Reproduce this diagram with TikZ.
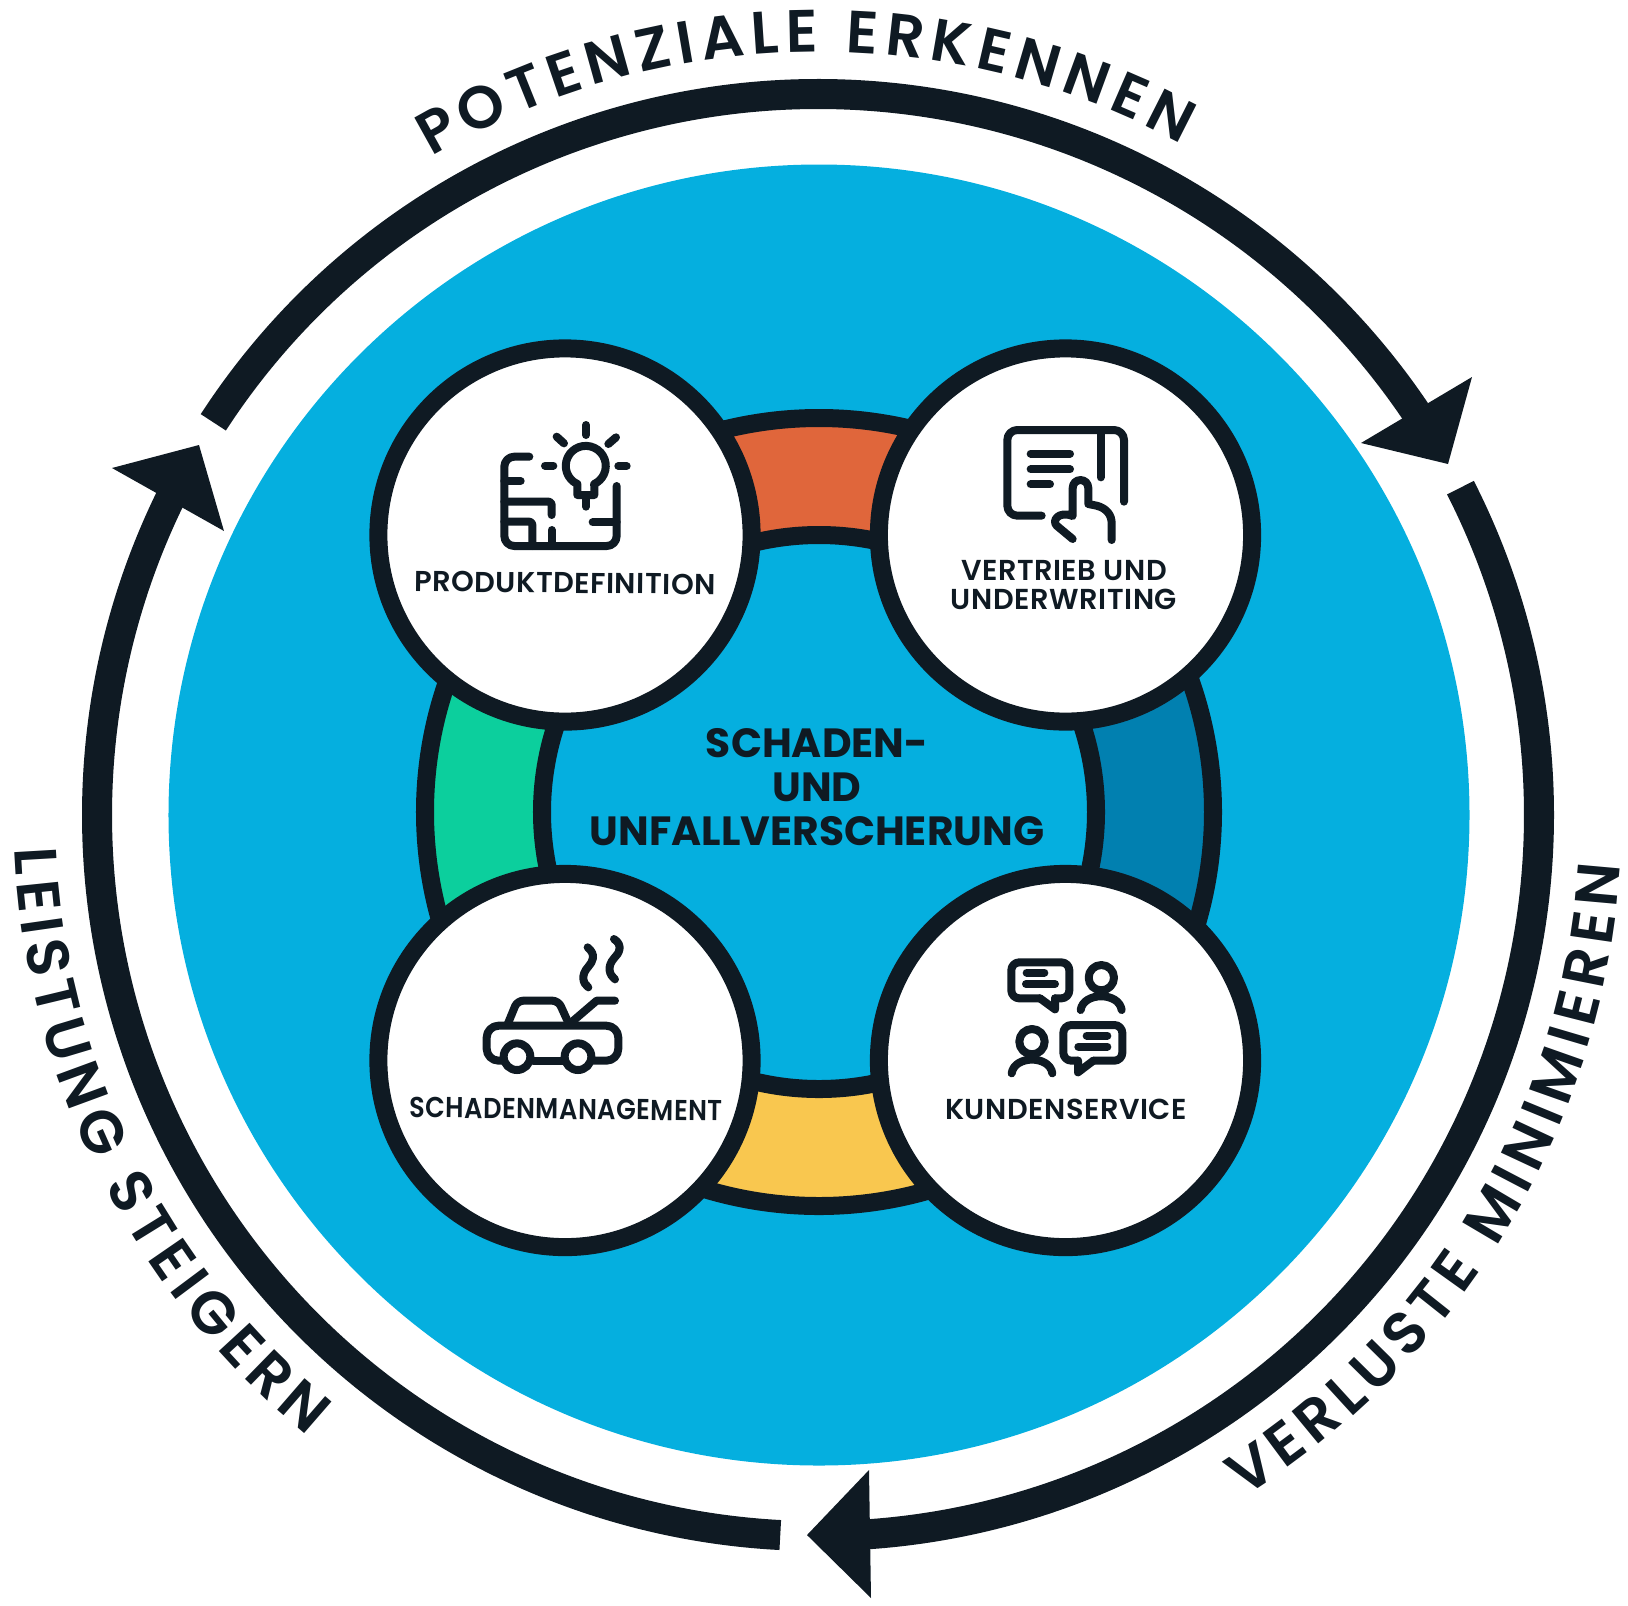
\documentclass[tikz,border=0pt]{standalone}
\usepackage{fontspec}
\usepackage{xcolor}
\usetikzlibrary{decorations.text}
\newfontfamily\ringfont{Poppins SemiBold}
\newfontfamily\hubfont[LetterSpace=2]{Poppins SemiBold}
\newfontfamily\corefont{Poppins Bold}
\definecolor{myink}{HTML}{0F1A23}
\definecolor{myblue}{HTML}{05AFDF}
\definecolor{myorange}{HTML}{E0663B}
\definecolor{mygreen}{HTML}{0CCF9D}
\definecolor{mydeep}{HTML}{0180B0}
\definecolor{myyellow}{HTML}{F9C74F}
\tikzset{
	band/.style={draw=myink, line width=3mm},
	head/.style={fill=myink},
	sector/.style={draw=myink, line width=1.8mm},
	hub/.style={circle, draw=myink, fill=white, line width=1.8mm, inner sep=0pt, minimum size=37.3mm},
	icon/.style={draw=myink, line width=0.8mm, line cap=round, line join=round},
	hubtext/.style={text=myink, align=center, inner sep=0pt, font=\fontsize{8.2}{8.2}\hubfont},
	ringtext/.style={decorate, decoration={text effects along path, text align=center, text={#1}, text effects/.cd, text along path, characters={text=myink, font=\fontsize{17}{17}\ringfont, inner xsep=0.93pt}, character widths={font=\fontsize{17}{17}\ringfont, inner xsep=0.93pt}}}
}
\begin{document}
\begin{tikzpicture}[x=0.01cm, y=0.01cm]
	\useasboundingbox (-818,-790) rectangle (810,815);
	\fill[myblue] (1,0) circle (650.5);
	% outer cycle
	\draw[band] (147:721) arc[start angle=147, end angle=34, radius=721];
	\draw[band] (27:721) arc[start angle=27, end angle=-86, radius=721];
	\draw[band] (-93:721) arc[start angle=-93, end angle=-206, radius=721];
	\fill[head] (543,372) -- (654,438) -- (630,351) -- cycle;
	\fill[head] (-11,-720) -- (51,-655) -- (53,-783) -- cycle;
	\fill[head] (-619,370) -- (-706,347) -- (-594,284) -- cycle;
	\path[ringtext=POTENZIALE ERKENNEN] (126:763) arc[start angle=126, end angle=56, radius=763];
	\path[ringtext=VERLUSTE MINIMIEREN] (-65.8:804) arc[start angle=-65.8, end angle=4.2, radius=804];
	\path[ringtext=LEISTUNG STEIGERN] (175:804) arc[start angle=175, end angle=238, radius=804];
	% inner ring
	\begin{scope}[shift={(1,3)}]
		\filldraw[sector, fill=myorange] (45:394) arc[start angle=45, end angle=135, radius=394] -- (135:277) arc[start angle=135, end angle=45, radius=277] -- cycle;
		\filldraw[sector, fill=mygreen] (135:394) arc[start angle=135, end angle=225, radius=394] -- (225:277) arc[start angle=225, end angle=135, radius=277] -- cycle;
		\filldraw[sector, fill=myyellow] (225:394) arc[start angle=225, end angle=315, radius=394] -- (315:277) arc[start angle=315, end angle=225, radius=277] -- cycle;
		\filldraw[sector, fill=mydeep] (315:394) arc[start angle=315, end angle=405, radius=394] -- (405:277) arc[start angle=405, end angle=315, radius=277] -- cycle;
	\end{scope}
	\node[hub] (prod) at (-253,280) {};
	\node[hub] (sales) at (247.5,280) {};
	\node[hub] (claims) at (-253,-245.5) {};
	\node[hub] (service) at (247.5,-245.5) {};
	\node[text=myink, align=center, inner sep=0pt, font=\fontsize{11.6}{12.6}\corefont] (core) at (-1,28) {SCHADEN-\\UND\\UNFALLVERSCHERUNG};
	\node[hubtext, rotate=-0.6] (prodlabel) at (-253,232) {PRODUKTDEFINITION};
	\node[hubtext] (saleslabel) at (246,230) {VERTRIEB UND\\[0.1pt]UNDERWRITING};
	\node[hubtext, rotate=-0.6] (claimslabel) at (-252,-294) {\scalebox{0.89}[1]{SCHADENMANAGEMENT}};
	\node[hubtext] (servicelabel) at (248,-294) {KUNDENSERVICE};
	% bulb on a floor plan
	\begin{scope}[shift={(-448,475)}, scale=1/3, yscale=-1]
		\draw[icon] (622,465) -- (622,432) arc[start angle=115, end angle=425, radius=60] -- (673,465) -- cycle;
		\draw[icon] (648,465) -- (648,500);
		\draw[icon] (648,255) -- (648,285);
		\draw[icon] (560,290) -- (582,310);
		\draw[icon] (738,292) -- (715,312);
		\draw[icon] (525,377) -- (550,377);
		\draw[icon] (745,378) -- (770,378);
		\draw[icon, rounded corners=1mm] (478,350) -- (403,350) -- (403,618) -- (740,618) -- (740,438);
		\draw[icon] (403,423) -- (452,423);
		\draw[icon, rounded corners=0.3mm] (403,485) -- (545,485) -- (545,525);
		\draw[icon, rounded corners=0.3mm] (403,545) -- (487,545) -- (487,618);
		\draw[icon] (545,570) -- (545,618);
		\draw[icon] (668,547) -- (740,547);
	\end{scope}
	% tablet and hand
	\begin{scope}[shift={(52,475)}, scale=1/3, yscale=-1]
		\draw[icon, rounded corners=1mm] (515,527) -- (412,527) -- (412,270) -- (762,270) -- (762,485);
		\draw[icon] (692,275) -- (692,412);
		\draw[icon] (482,341) -- (600,341);
		\draw[icon] (482,388) -- (600,388);
		\draw[icon] (482,433) -- (540,433);
		\draw[icon] (608,597) -- (560,557) .. controls (545,542) and (565,512) .. (608,528) -- (608,445) .. controls (608,412) and (655,412) .. (655,445) -- (655,492) -- (680,497) .. controls (710,505) and (725,525) .. (725,550) -- (725,600);
	\end{scope}
	% car with smoke
	\begin{scope}[shift={(-448,-55)}, scale=1/3, yscale=-1]
		\draw[icon] (653,232) .. controls (680,255) and (668,275) .. (655,290) .. controls (632,315) and (638,340) .. (655,352);
		\draw[icon] (732,207) .. controls (760,225) and (748,250) .. (732,265) .. controls (710,290) and (718,315) .. (735,328);
		\draw[icon] (735,392) -- (680,392) -- (610,452);
		\draw[icon, rounded corners=0.6mm] (412,465) -- (442,392) -- (565,392) -- (595,458);
		\draw[icon, rounded corners=1.2mm] (395,572) -- (350,572) -- (350,467) -- (745,467) -- (745,572) -- (672,572);
		\draw[icon] (490,572) -- (580,572);
		\draw[icon] (441,560) circle (40);
		\draw[icon] (624,560) circle (40);
	\end{scope}
	% people talking
	\begin{scope}[shift={(52,-55)}, scale=1/3, yscale=-1]
		\draw[icon, rounded corners=0.8mm] (510,385) -- (424,385) -- (424,277) -- (598,277) -- (598,385) -- (555,385);
		\draw[icon] (510,385) -- (555,418) -- (555,385);
		\draw[icon] (470,308) -- (523,308);
		\draw[icon] (468,342) -- (555,342);
		\draw[icon] (694,323) circle (38);
		\draw[icon] (632,420) .. controls (640,365) and (747,365) .. (755,420);
		\draw[icon] (486,515) circle (38);
		\draw[icon] (425,610) .. controls (433,555) and (539,555) .. (547,610);
		\draw[icon, rounded corners=0.8mm] (670,572) -- (757,572) -- (757,465) -- (580,465) -- (580,572) -- (624,572);
		\draw[icon] (670,572) -- (624,607) -- (624,572);
		\draw[icon] (650,497) -- (712,497);
		\draw[icon] (625,530) -- (712,530);
	\end{scope}
\end{tikzpicture}
\end{document}
